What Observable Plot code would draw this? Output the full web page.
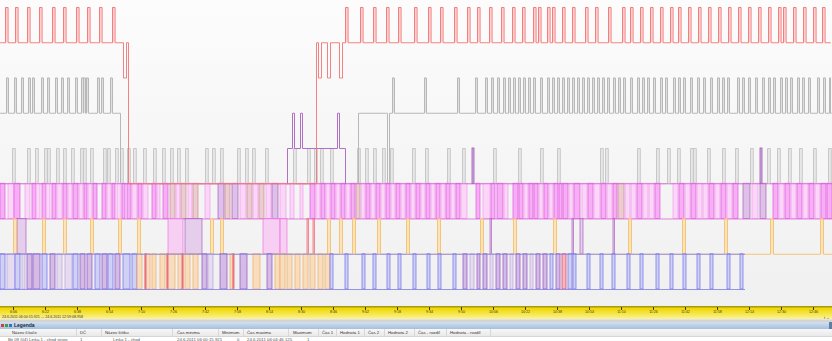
<!DOCTYPE html>
<html>
<head>
<meta charset="utf-8">
<script src="https://cdn.jsdelivr.net/npm/d3@7"></script>
<script src="https://cdn.jsdelivr.net/npm/@observablehq/plot@0.6"></script>
<style>
  html, body { margin: 0; padding: 0; background: #fff; }
  #wrap { position: relative; width: 832px; height: 341px; overflow: hidden; font-family: "Liberation Sans", Arial, sans-serif; }
  #chart svg g[aria-label="line"], #chart svg g[aria-label="rect"], #chart svg g[aria-label="rule"] { filter: blur(0.3px); }
  #cap { position: absolute; left: 2px; top: 315px; font-size: 3.6px; line-height: 4px; color: #333; white-space: nowrap; }
  #legend { position: absolute; left: 0; top: 320px; width: 832px; height: 21px; background: #fff; }
  .sep { position: absolute; left: 0; top: 0; width: 832px; height: 2px; background: #d4d4d4; }
  .head { position: absolute; left: 0; top: 2px; width: 829px; height: 7px; background: linear-gradient(#d2e1f1, #a6bfdb); }
  .scroll { position: absolute; left: 829px; top: 2px; width: 3px; height: 7px; background: #5c7fa8; }
  .head span { position: absolute; top: 1px; font-size: 5px; line-height: 5px; font-weight: bold; color: #1a2a40; }
  .ico { position: absolute; top: 2px; width: 3px; height: 3px; }
  .row { position: absolute; left: 0; width: 832px; }
  .row span { position: absolute; white-space: nowrap; font-size: 4.3px; line-height: 5px; color: #333; }
  .row i { position: absolute; top: 0; width: 1px; height: 7px; background: #d8d8d8; }
</style>
</head>
<body>
<div id="wrap">
  <div id="chart"></div>
  <div id="cap"></div>
  <div id="legend"></div>
</div>
<script>
// ---------- DATA (times in minutes after 6:00) ----------
const tickTimes = [6.5, 22.5, 38.5, 54.5, 70.5, 86.5, 102.5, 118.5, 134.5, 150.5, 166.5, 182.5, 198.5, 214.5, 230.5, 246.5, 262.5, 278.5, 294.5, 310.5, 326.5, 342.5, 358.5, 374.5, 390.5, 406.5];
const tickLabels = ["6:06","6:22","6:38","6:54","7:10","7:26","7:42","7:58","8:14","8:30","8:46","9:02","9:18","9:34","9:50","10:06","10:22","10:38","10:54","11:10","11:26","11:42","11:58","12:14","12:30","12:46"];
const timeSpan = [0, 416];
const rangeCaption = "24.6.2011 06:00:15.921 --- 24.6.2011 12:59:08.958";

// Signal 1 (red): levels high 0 / low 1
const redUpA = [2.5, 7.5, 13.5, 19.5, 26, 31.5, 38, 43.5, 49.5, 56];
const redUpB = [172.5, 180, 186.5, 193, 199, 207, 214, 220, 227, 233.5, 238.5, 244.5, 250.5, 256, 261, 266.5, 269, 273.5, 276, 281, 286, 292.5, 297.5, 304, 311, 315, 320, 325, 330, 335, 339, 344, 349, 354, 359, 364, 369, 374, 379, 384, 389, 391.5, 396.5, 401.5, 406.5, 411];
const redChanges = [[61.5, 63, 2], [64, 158, 5], [159, 160.5, 2], [163.5, 165, 2], [169.5, 171, 2]];
const redDur = 1.3;

// Signal 2 (gray): high 2 / low 3
const grayUpA = [3, 7, 10.5, 14, 16, 20.5, 23.5, 27.5, 30.5, 33.5, 37.5, 40.5, 41.5, 43, 48.5, 50.5, 55];
const grayUpB = [196, 212, 228.5, 237.5, 242.5, 245.5, 248.5, 251.5, 254, 256.5, 259, 261.5, 264, 266.5, 270, 273.5, 276, 278.5, 281, 283.5, 286, 288.5, 291, 293.5, 296, 298.5, 301, 303.5, 306.5, 309, 311.5, 315, 318.5, 321, 323.5, 326.5, 330, 332.5, 336.5, 339, 341.5, 345, 348.5, 351.5, 355, 358.5, 361, 363.5, 368.5, 371, 374, 377.5, 381, 384, 386.5, 390, 392.5, 395, 398.5, 401, 404, 408.5, 411.5, 414.5];
const grayChanges = [[60, 179, 5], [193.5, 194.5, 5]];
const grayDur = 1.0;

// Signal 3 (light gray): high 4 / low 5
const lightUp = [6, 13.5, 17.5, 22, 23.5, 28, 31.5, 35.5, 40, 41.5, 45, 51.5, 53.5, 57.5, 60, 63.5, 66.5, 71.5, 76.5, 81, 85, 88.5, 92.5, 102.5, 106, 110, 118.5, 122.5, 126, 132.5, 146.5, 153.5, 157, 160, 165, 178.5, 182.5, 186.5, 191, 195, 206, 212.5, 223.5, 231, 246.5, 259, 270, 278.5, 300, 302.5, 318.5, 328, 333.5, 338.5, 345, 346.5, 353.5, 361, 367.5, 375, 383.5, 388.5, 394, 399.5, 406.5, 414];
const lightDur = 1.4;

// Signal 4 (violet, short episode): on 143.5-172.5 at level 4, pulses to 3
const violetOn = [143.5, 172.5];
const violetUp = [146, 150, 168.5];
const violetSolo = [236, 380];
const violetDur = 1.0;

// Signal 5 (magenta band, levels 5-6): [start, end, kind]
const pinkPulses = [[0,2.5,'m'],[4,7,'l'],[7,10,'m'],[12.5,15,'l'],[16,18,'m'],[18,20,'l'],[21,23,'m'],[23,25,'l'],[26,28,'m'],[28.5,31,'l'],[31.5,33.5,'m'],[34,36,'l'],[36.5,39,'m'],[39.5,41.5,'l'],[42,43.5,'m'],[44,46,'l'],[46.5,48.5,'m'],[51,53,'m'],[53.5,55.5,'l'],[56,57.5,'m'],[58.5,60.5,'l'],[61,62.5,'m'],[63.5,65.5,'m'],[66,68.5,'l'],[69,71,'m'],[71.5,74,'l'],[76,78,'m'],[78.5,80,'l'],[81.5,84,'m'],[85,87.5,'b'],[88,90,'l'],[90.5,93,'b'],[94,96,'l'],[96.5,99,'b'],[102.5,105,'l'],[109,112,'v'],[112.5,115,'b'],[116,119,'v'],[120,123,'l'],[123.5,126,'b'],[126.5,129,'l'],[129.5,132,'b'],[133,135.5,'l'],[136,139,'v'],[140,143,'l'],[145,147,'l'],[150,151.5,'l'],[155,157.5,'m'],[158,160,'l'],[160.5,162.5,'m'],[163,165,'l'],[165.5,167.5,'m'],[168,170,'l'],[170.5,172.5,'m'],[173,175,'l'],[175.5,177.5,'m'],[178,180,'b'],[180.5,182.5,'l'],[183,185,'m'],[185.5,187.5,'l'],[188,190,'m'],[190.5,192.5,'l'],[193,195,'m'],[195.5,197.5,'l'],[198,200,'m'],[200.5,202.5,'l'],[203,205,'m'],[205.5,207.5,'l'],[208,210,'m'],[210.5,212.5,'l'],[213,215,'m'],[215.5,217.5,'l'],[218,220,'m'],[220.5,222.5,'l'],[223,225,'m'],[225.5,227.5,'l'],[228,230,'m'],[230.5,233.5,'l'],[238,240,'m'],[241.5,245,'l'],[245.5,247.5,'m'],[248.5,251.5,'m'],[252,254,'l'],[256.5,259,'m'],[259.5,261.5,'m'],[262,264,'l'],[264.5,266.5,'m'],[267,269,'m'],[269.5,271.5,'l'],[272,274,'m'],[274.5,276.5,'l'],[277,279,'m'],[279.5,281,'m'],[281.5,284,'m'],[284.5,286.5,'l'],[287,290,'m'],[291,293.5,'l'],[294,296.5,'m'],[297,300,'l'],[300.5,303,'m'],[303.5,306,'l'],[306.5,308.5,'m'],[309,312,'b'],[312.5,315,'l'],[315.5,318,'l'],[318.5,321,'m'],[321.5,324,'l'],[324.5,327,'l'],[327.5,330,'m'],[336.5,339,'l'],[339.5,342,'m'],[342.5,345,'l'],[345.5,348,'m'],[348.5,351,'l'],[351.5,354,'l'],[354.5,357,'m'],[357.5,360,'l'],[360.5,363,'m'],[363.5,366,'l'],[366.5,369,'m'],[371.5,375,'v'],[376,379,'l'],[380,383,'v'],[386.5,389,'m'],[389.5,392,'l'],[392.5,395,'m'],[395.5,398,'l'],[398.5,401,'m'],[401.5,404,'l'],[404.5,407,'m'],[407.5,410,'l'],[410.5,413,'m'],[413.5,416,'m']];

// Signal 6 (orange): high 6 / low 7
const orangeUp = [6.5, 21, 31.5, 45, 59, 68.5, 105, 110, 163.5, 169.5, 176, 188.5, 203, 218.5, 240, 256.5, 276.5, 314, 341, 362, 385, 410];
const orangeDur = 1.5;
const orangeOthers = [[8.5,13,'v'],[84,91.5,'p'],[92.5,101,'v'],[131.5,140,'p'],[140,143.5,'p'],[153.5,154.2,'r'],[156.5,157.2,'r'],[245,245.8,'v'],[286,286.8,'v'],[290,291.5,'v'],[306.5,307.3,'v']];

// Signal 7 (blue band, levels 7-8): [start, end, kind]
const bluePulses = [[0,2.5,'b'],[3.5,7.5,'l'],[7.5,10,'b'],[11,12.5,'l'],[13.5,16,'p'],[16.5,20,'p'],[21,23.5,'b'],[25,27.5,'p'],[28.5,31,'l'],[32.5,36,'l'],[36.5,39,'b'],[40,42.5,'p'],[43.5,46,'p'],[47.5,50,'b'],[51,53.5,'p'],[54,56.5,'b'],[57.5,60,'p'],[61.5,65,'b'],[66,68.5,'b'],
  [68.5,71,'o'],[72.5,75,'o'],[72.5,73,'r'],[76,78,'o'],[80,82.5,'o'],[83.5,87.5,'o'],[83.5,84,'r'],[89,91.5,'o'],[91,91.5,'r'],[92.5,95,'o'],[96.5,99,'o'],
  [101,103.5,'p'],[104,106.5,'l'],[110,113.5,'p'],[115,116.5,'o'],[116.5,117,'r'],[120,123.5,'p'],[126.5,130,'o'],[133.5,136,'p'],[137.5,140,'o'],
  [140,142.5,'o'],[143.5,146,'o'],[147.5,150,'o'],[151.5,154,'o'],[155,157.5,'o'],[159,161.5,'o'],[162.5,165,'o'],
  [165,166.5,'b'],[172.5,174,'b'],[181,182.5,'b'],[186.5,188,'b'],[193.5,195,'b'],[199,200.5,'b'],[206.5,208,'b'],[213.5,215,'b'],[219,220.5,'b'],[226.5,228,'b'],
  [231.5,233.5,'p'],[235,237,'l'],[238.5,240,'p'],[241.5,243.5,'p'],[245,246.5,'l'],[248,250,'p'],[251.5,253.5,'p'],[255,256.5,'l'],[258,260,'p'],[261.5,263.5,'p'],[265,266.5,'l'],[268,270,'p'],[271.5,273.5,'p'],[275,276.5,'b'],[278,280,'p'],[281,283,'r'],[284,286,'b'],
  [286.5,288,'b'],[293.5,295,'b'],[300,301.5,'b'],[306,307.5,'b'],[313.5,315,'b'],[320,321.5,'b'],[328,329.5,'b'],[335,336.5,'b'],[341.5,343,'b'],[348.5,350,'b'],[355,356.5,'b'],[363.5,365,'b'],[370,371.5,'b']];
const blueSpan = [0, 372.5];

// Legend table texts
const legendTitle = "Legenda";
const legendColumns = ["Název čítače","DČ","Název štítku","Čas minima","Minimum","Čas maxima","Maximum","Čas 1","Hodnota 1","Čas 2","Hodnota 2","Čas - rozdíl","Hodnota - rozdíl"];
const legendRow = ["Bit 09 (04) Linka 1 - chod stroje","1","Linka 1 - chod","24.6.2011 06:00:15.921","0","24.6.2011 06:04:46.125","1"];

// ---------- LAYOUT / STYLE ----------
const colX = [12, 80, 105, 177, 222, 247, 293, 322, 340, 368, 388, 418, 450];
const colSep = [76, 101, 172, 218, 243, 288, 318, 336, 364, 384, 414, 446, 490];
const rowX = [8, 80, 113, 177, 237, 247, 307];

const pinkCol = { m: ["#e452e4", "#f6a2f3"], l: ["#f0a0ec", "#fbd0f8"], b: ["#cc8e98", "#e8c4ca"], v: ["#a860bc", "#dab6e6"], p: ["#ee74e6", "#f8b8f2"], r: ["#ee6070", "#f8b0b8"] };
const blueCol = { b: ["#6a6ae8", "#c8c8f6"], l: ["#b8a0d8", "#e2d6f0"], p: ["#8c50c2", "#ccaee2"], o: ["#eeaa60", "#f9d8b0"], r: ["#e4405e", "#f4a6b4"] };

function buildSignal(start, end, base, high, pulses, dur, changes) {
  const ev = [[start, base]];
  pulses.forEach(s => ev.push([s, high], [s + dur, base]));
  changes.forEach(([s, e, lvl]) => ev.push([s, lvl], [e, base]));
  ev.push([end, base]);
  ev.sort((a, b) => a[0] - b[0]);
  return ev.map(([t, level]) => ({ t, level }));
}

const redEvents = buildSignal(0, 415, 1, 0, redUpA.concat(redUpB), redDur, redChanges);
const grayEvents = buildSignal(0, 415, 3, 2, grayUpA.concat(grayUpB), grayDur, grayChanges);
const lightEvents = buildSignal(0, 416, 5, 4, lightUp, lightDur, []);
const orangeEvents = buildSignal(0, 416, 7, 6, orangeUp, orangeDur, []);
const violetEvents = [{ t: violetOn[0], level: 5 }].concat(
  buildSignal(violetOn[0], violetOn[1], 4, 3, violetUp, violetDur, [])
).concat([{ t: violetOn[1], level: 5 }]);

const fillRects = (starts, dur, y1, y2, fill, op) =>
  Plot.rect(starts, { x1: d => d, x2: d => d + dur, y1: () => y1, y2: () => y2, fill, fillOpacity: op });

const bandRects = (data, y1, y2, pal, op) =>
  Plot.rect(data, { x1: d => d[0], x2: d => d[1], y1: () => y1, y2: () => y2,
    fill: d => pal[d[2]][1], fillOpacity: op, stroke: d => pal[d[2]][0], strokeWidth: 0.8, strokeOpacity: 0.85 });

const chart = Plot.plot({
  width: 832,
  height: 321,
  marginTop: 0, marginBottom: 14, marginLeft: 0, marginRight: 0,
  x: { domain: timeSpan, range: [0, 832] },
  y: { domain: [0, 8], range: [7, 289], axis: null },
  color: { type: "identity" },
  style: {
    background: "linear-gradient(to bottom, #fcfcfc 0px, #f0f0f0 306px, #a89a10 306px, #a89a10 307px, #eed600 308px, #f6e440 313px, #fcf39a 319px, #e2e2e2 319px, #e2e2e2 321px)",
    fontFamily: "Liberation Sans, Arial, sans-serif",
    overflow: "visible"
  },
  marks: [
    // light gray signal
    fillRects(lightUp, lightDur, 4, 5, "#e4e4e4", 0.9),
    Plot.line(lightEvents, { x: "t", y: "level", curve: "step-after", stroke: "#c8c8c8", strokeWidth: 1 }),
    // gray signal
    fillRects(grayUpA.concat(grayUpB), grayDur, 2, 3, "#dcdcdc", 0.9),
    Plot.line(grayEvents, { x: "t", y: "level", curve: "step-after", stroke: "#b8b8b8", strokeWidth: 1 }),
    // magenta band
    bandRects(pinkPulses, 5, 6, pinkCol, 0.85),
    Plot.ruleY([5, 6], { x1: timeSpan[0], x2: timeSpan[1], stroke: "#d866d6", strokeWidth: 1, strokeOpacity: 0.8 }),
    // orange signal
    bandRects(orangeOthers, 6, 7, pinkCol, 0.6),
    fillRects(orangeUp, orangeDur, 6, 7, "#fde2b4", 0.9),
    Plot.line(orangeEvents, { x: "t", y: "level", curve: "step-after", stroke: "#f4c47a", strokeWidth: 1 }),
    // blue band
    bandRects(bluePulses, 7, 8, blueCol, 0.8),
    Plot.ruleY([7, 8], { x1: blueSpan[0], x2: blueSpan[1], stroke: "#8484ea", strokeWidth: 1, strokeOpacity: 0.85 }),
    // violet signal
    Plot.rect(violetSolo, { x1: d => d, x2: d => d + violetDur, y1: () => 4, y2: () => 5, fill: "#d6b0e2", stroke: "#9a58b0", strokeWidth: 0.8 }),
    Plot.line(violetEvents, { x: "t", y: "level", curve: "step-after", stroke: "#b070c6", strokeWidth: 1 }),
    // red signal
    fillRects(redUpA.concat(redUpB), redDur, 0, 1, "#ffc8c8", 0.9),
    Plot.line(redEvents, { x: "t", y: "level", curve: "step-after", stroke: "#f27676", strokeWidth: 1, strokeOpacity: 0.9 }),
    // time axis
    Plot.axisX({ ticks: tickTimes, tickFormat: d => tickLabels[tickTimes.indexOf(d)], tickSize: 3, tickPadding: 0, fontSize: 3.6, color: "#3a3a20" })
  ]
});
document.getElementById("chart").appendChild(chart);
document.getElementById("cap").textContent = rangeCaption;

// legend panel
const lg = document.getElementById("legend");
let html = '<div class="sep"></div><div class="head">' +
  '<div class="ico" style="left:1px;background:#d04040"></div>' +
  '<div class="ico" style="left:5px;background:#40a040"></div>' +
  '<div class="ico" style="left:9px;background:#3a70c0"></div>' +
  '<span style="left:14px">' + legendTitle + '</span></div><div class="scroll"></div>';
html += '<div class="row" style="top:9px;height:7px;background:linear-gradient(#f7f7f7,#e9e9e9);border-bottom:1px solid #d6d6d6">';
legendColumns.forEach((c, i) => { html += '<span style="left:' + colX[i] + 'px;top:1px">' + c + '</span>'; });
colSep.forEach(x => { html += '<i style="left:' + x + 'px"></i>'; });
html += '</div><div class="row" style="top:17px;height:4px;background:#fff">';
legendRow.forEach((c, i) => { html += '<span style="left:' + rowX[i] + 'px;top:0px;color:#555">' + c + '</span>'; });
html += '</div>';
lg.innerHTML = html;
</script>
</body>
</html>
